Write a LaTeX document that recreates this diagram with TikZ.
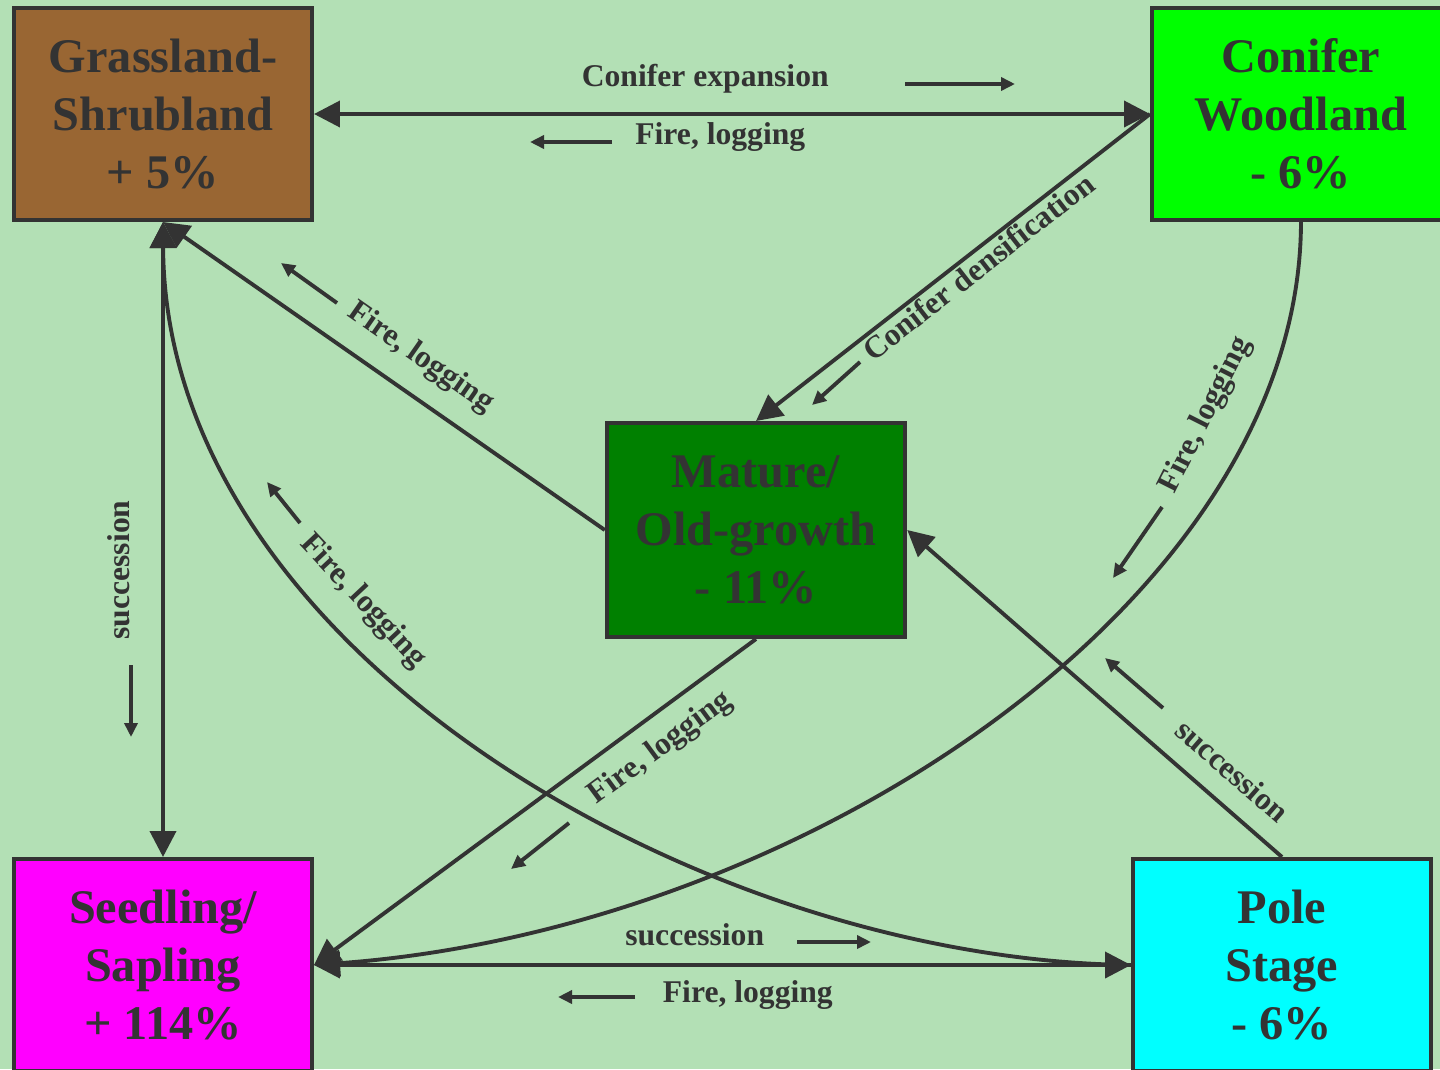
\documentclass[tikz,border=0pt]{standalone}
\usepackage{fontspec}
\setmainfont{Liberation Serif}
\usetikzlibrary{arrows.meta}
\definecolor{meadow}{RGB}{179,224,181}
\definecolor{ink}{RGB}{51,51,51}
\definecolor{shrub}{RGB}{153,102,51}
\definecolor{lime}{RGB}{0,255,0}
\definecolor{forest}{RGB}{0,128,0}
\definecolor{pinkish}{RGB}{255,0,255}
\definecolor{aqua}{RGB}{0,255,255}
\begin{document}
\begin{tikzpicture}[
  x=0.02cm, y=0.02cm,
  box/.style={draw=ink, line width=2.3pt, minimum width=5.96cm, minimum height=4.24cm,
    align=center, text=ink, font=\fontsize{27.5}{33}\selectfont\bfseries},
  lbl/.style={text=ink, inner sep=0pt, font=\fontsize{18}{21}\selectfont\bfseries},
  link/.style={draw=ink, line width=2.2pt},
  tick/.style={draw=ink, line width=2.2pt, ->, >={Triangle[length=0.28cm,width=0.26cm]}},
  >={Triangle[length=0.52cm,width=0.52cm]}
]
  \fill[meadow] (0,0) rectangle (1440,-1069);
  \useasboundingbox (0,0) rectangle (1440,-1069);

  \node[box, fill=shrub]   (grass)   at (163,-114)  {Grassland-\\Shrubland\\+ 5\%};
  \node[box, fill=lime]    (conifer) at (1301,-114) {Conifer\\Woodland\\- 6\%};
  \node[box, fill=forest, minimum width=5.97cm, minimum height=4.28cm]
                           (mature)  at (756,-530)  {Mature/\\Old-growth\\- 11\%};
  \node[box, fill=pinkish] (seed)    at (163,-965)  {Seedling/\\Sapling\\+ 114\%};
  \node[box, fill=aqua]    (pole)    at (1282,-965) {Pole\\Stage\\- 6\%};

  \draw[link, <->] (grass.east) --
    node[lbl, above=11pt, pos=0.468] {Conifer expansion}
    node[lbl, below=4pt, pos=0.486] {Fire, logging} (conifer.west);
  \draw[link, ->] (conifer.west) --
    node[lbl, sloped, below=1pt, pos=0.459] {Conifer densification} (mature.north);
  \draw[link, ->] (mature.west) --
    node[lbl, sloped, above=11pt, pos=0.463] {Fire, logging} (grass.south);
  \draw[link, <->] (seed.north) --
    node[lbl, sloped, above=18pt, pos=0.452] {succession} (grass.south);
  \draw[link, ->] (pole.west) .. controls (700,-960) and (165,-650) ..
    node[lbl, sloped, above=10pt, pos=0.645] {Fire, logging} (grass.south);
  \draw[link, ->] (conifer.south) .. controls (1300,-600) and (800,-930) ..
    node[lbl, sloped, above=17pt, pos=0.195] {Fire, logging} (seed.east);
  \draw[link, ->] (mature.south) --
    node[lbl, sloped, below=8.5pt, pos=0.258] {Fire, logging} (seed.east);
  \draw[link, ->] (pole.north) --
    node[lbl, sloped, above=11pt, pos=0.189] {succession} (mature.east);
  \draw[link, <->] (seed.east) --
    node[lbl, above=9.7pt, pos=0.466] {succession}
    node[lbl, below=8pt, pos=0.531] {Fire, logging} (pole.west);

  % little direction arrows
  \coordinate (exp-a) at (905,-84);   \coordinate (exp-b) at (1015,-84);
  \coordinate (top-a) at (612,-142);  \coordinate (top-b) at (530,-142);
  \coordinate (den-a) at (860,-362);  \coordinate (den-b) at (812,-405);
  \coordinate (mg-a)  at (337,-303);  \coordinate (mg-b)  at (281,-263);
  \coordinate (gs-a)  at (131,-665);  \coordinate (gs-b)  at (131,-737);
  \coordinate (pg-a)  at (300,-523);  \coordinate (pg-b)  at (267,-482);
  \coordinate (cs-a)  at (1162,-507); \coordinate (cs-b)  at (1113,-578);
  \coordinate (ms-a)  at (569,-823);  \coordinate (ms-b)  at (511,-869);
  \coordinate (pm-a)  at (1163,-708); \coordinate (pm-b)  at (1105,-658);
  \coordinate (sp-a)  at (797,-942);  \coordinate (sp-b)  at (871,-942);
  \coordinate (bot-a) at (635,-997);  \coordinate (bot-b) at (558,-997);
  \foreach \t in {exp, top, den, mg, gs, pg, cs, ms, pm, sp, bot}
    \draw[tick] (\t-a) -- (\t-b);
\end{tikzpicture}
\end{document}
